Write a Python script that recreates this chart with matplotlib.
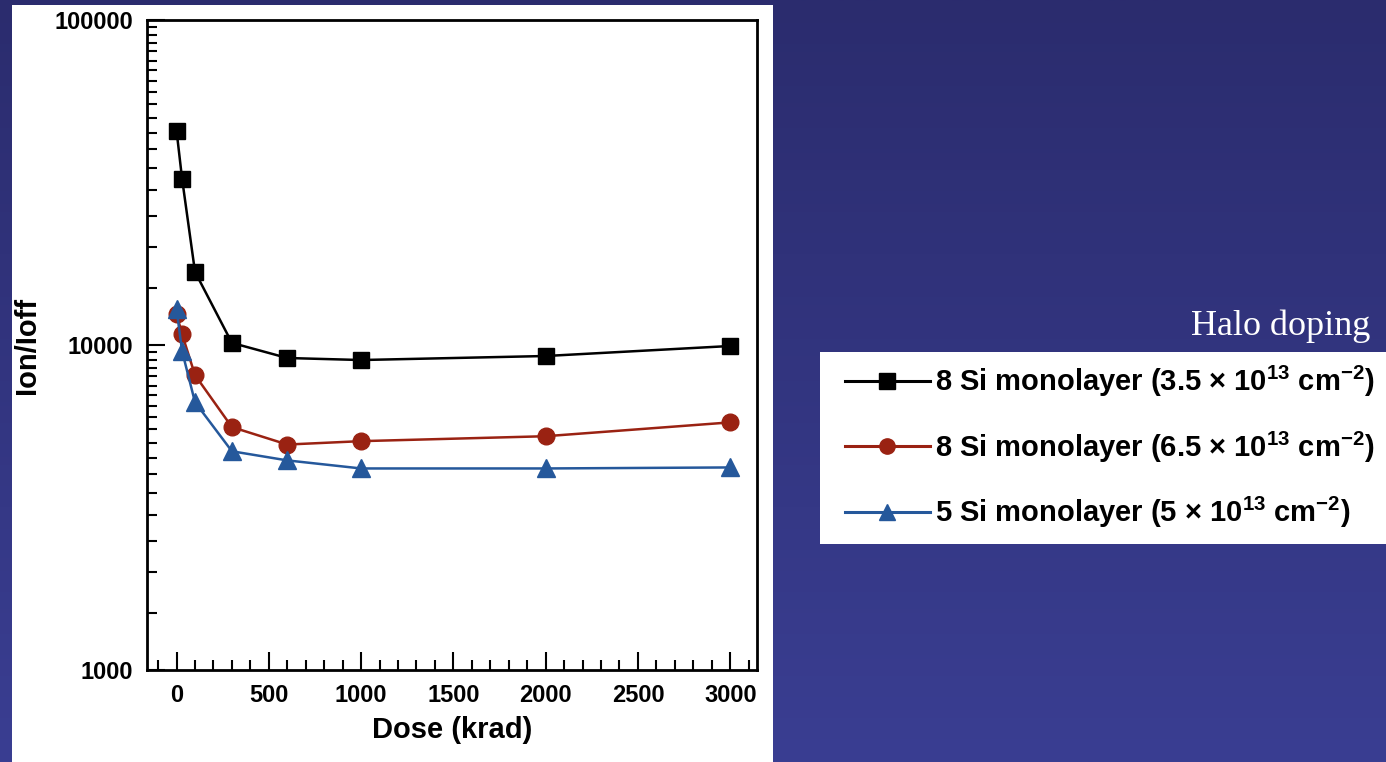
import numpy as np
import matplotlib
matplotlib.use("Agg")
import matplotlib.pyplot as plt
from matplotlib.colors import LinearSegmentedColormap
from matplotlib.patches import Rectangle
from matplotlib.lines import Line2D

plt.rcParams['font.family'] = ['Liberation Sans', 'DejaVu Sans']
plt.rcParams['font.weight'] = 'bold'
plt.rcParams['mathtext.fontset'] = 'custom'
plt.rcParams['mathtext.bf'] = 'Liberation Sans:bold'
plt.rcParams['mathtext.rm'] = 'Liberation Sans:bold'

# Data
dose = [0, 30, 100, 300, 600, 1000, 2000, 3000]
ratio_8si_35 = [45700, 32500, 16800, 10150, 9120, 8990, 9250, 9930]
ratio_8si_65 = [12470, 10800, 8080, 5590, 4940, 5060, 5240, 5780]
ratio_5si_5 = [12910, 9580, 6670, 4710, 4415, 4170, 4170, 4200]

labels = [
    r'8 Si monolayer (3.5 × 10$^{\mathbf{13}}$ cm$^{\mathbf{-2}}$)',
    r'8 Si monolayer (6.5 × 10$^{\mathbf{13}}$ cm$^{\mathbf{-2}}$)',
    r'5 Si monolayer (5 × 10$^{\mathbf{13}}$ cm$^{\mathbf{-2}}$)',
]
colors = ['#000000', '#9a2212', '#25589b']
markers = ['s', 'o', '^']
series = [ratio_8si_35, ratio_8si_65, ratio_5si_5]

W, H = 1386, 762
fig = plt.figure(figsize=(W / 100, H / 100), dpi=100)

# slide background gradient
bg = fig.add_axes([0, 0, 1, 1], zorder=-10)
grad = np.linspace(0, 1, 256).reshape(-1, 1)
cmap = LinearSegmentedColormap.from_list('bg', ['#2b2c6e', '#3a3e92'])
bg.imshow(grad, aspect='auto', cmap=cmap, extent=[0, 1, 0, 1], origin='upper')
bg.set_xlim(0, 1)
bg.set_ylim(0, 1)
bg.axis('off')

# white panel behind the chart and behind the legend
fig.patches.append(Rectangle((12 / W, 0), 761 / W, 757 / H,
                             transform=fig.transFigure, facecolor='white',
                             edgecolor='none', zorder=-5))
fig.patches.append(Rectangle((820 / W, 1 - 544 / H), (W - 820) / W, 192 / H,
                             transform=fig.transFigure, facecolor='white',
                             edgecolor='none', zorder=-5))

ax = fig.add_axes([147 / W, 1 - 670 / H, 610 / W, 650 / H])
for vals, c, m in zip(series, colors, markers):
    ax.plot(dose, vals, color=c, marker=m, markersize=12 if m != '^' else 13,
            linewidth=1.8, markeredgecolor=c)

ax.set_yscale('log')
ax.set_ylim(1000, 100000)
ax.set_xlim(-160, 3145)
ax.set_xticks([0, 500, 1000, 1500, 2000, 2500, 3000])
ax.set_xticks(np.arange(-100, 3145, 100), minor=True)
ax.set_yticks([1000, 10000, 100000])
ax.set_yticklabels(['1000', '10000', '100000'])
# minor ticks every half unit of each decade
ymin = list(np.arange(1500, 10000, 500)) + list(np.arange(15000, 100000, 5000))
ax.set_yticks(ymin, minor=True)
ax.set_yticklabels([], minor=True)
ax.tick_params(which='both', direction='in', top=False, right=False,
               labelsize=17, width=1.5, pad=10)
ax.tick_params(which='major', length=13)
ax.tick_params(which='minor', length=7)
for s in ax.spines.values():
    s.set_linewidth(2)
ax.set_xlabel('Dose (krad)', fontsize=21, fontweight='bold')
ax.xaxis.set_label_coords(0.5, -(716 - 670) / 650)
ax.set_ylabel('Ion/Ioff', fontsize=21, fontweight='bold')
ax.yaxis.set_label_coords(-(147 - 41) / 610, 0.5)

fig.text(1370 / W, 1 - 326 / H, 'Halo doping', color='white',
         family='Liberation Serif', fontweight='normal', fontsize=26,
         ha='right', va='center')

handles = [Line2D([0], [0], color=c, marker=m, markersize=11, linewidth=2.2,
                  markeredgecolor=c) for c, m in zip(colors, markers)]
leg = fig.legend(handles, labels, loc='center left',
                 bbox_to_anchor=(845 / W, 1 - 447 / H),
                 fontsize=21, frameon=False, handlelength=2.9,
                 handletextpad=0.2, labelspacing=1.05, borderpad=0,
                 borderaxespad=0)

fig.savefig('out.png', dpi=100)
